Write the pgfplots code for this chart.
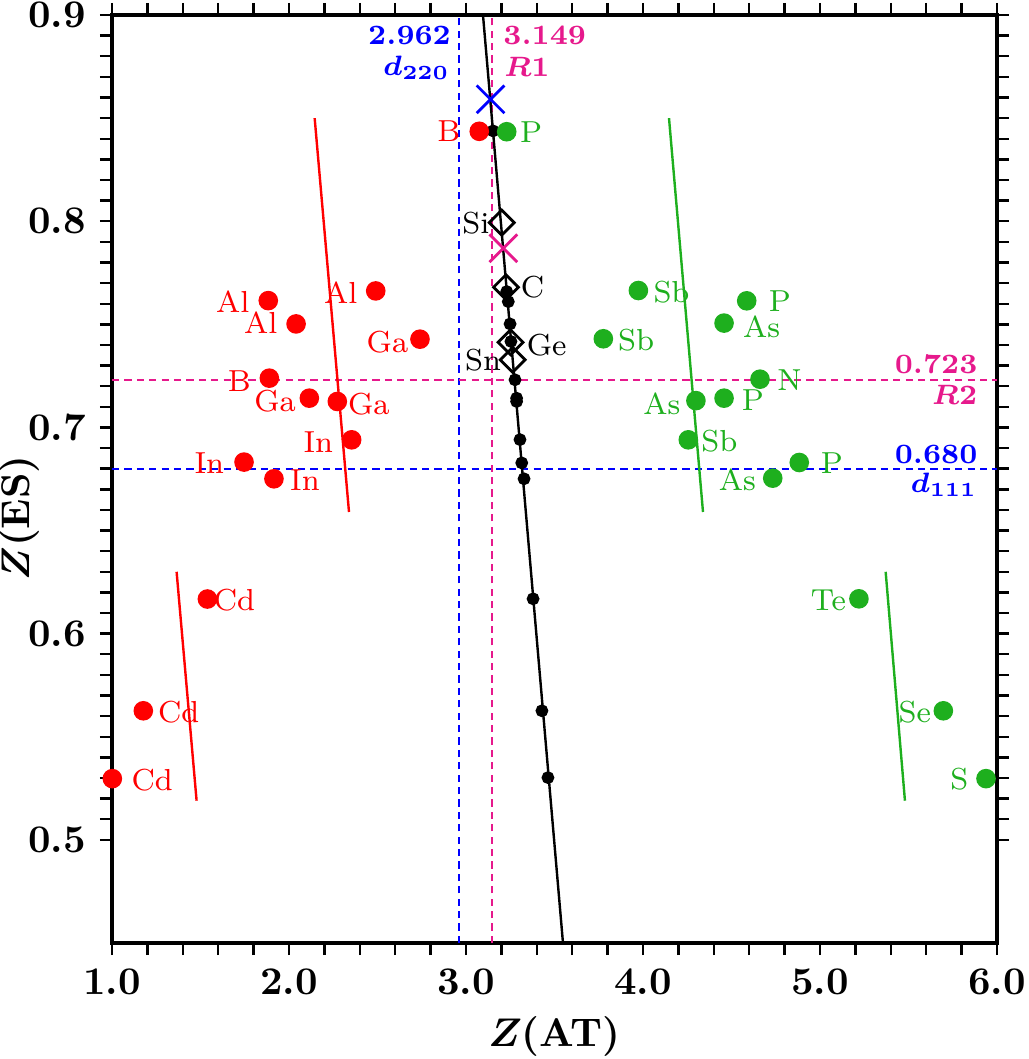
\documentclass[border=0pt]{standalone}
\usepackage{pgfplots}
\pgfplotsset{compat=1.18}
\definecolor{myred}{RGB}{255,0,0}
\definecolor{mygreen}{RGB}{30,175,30}
\definecolor{mypink}{RGB}{230,25,140}
\definecolor{myblue}{RGB}{0,0,255}
\begin{document}
\begin{tikzpicture}[
  lab/.style={inner sep=0pt, text height=5.1pt, text depth=0pt, font=\fontsize{7.6}{9}\selectfont},
  ann/.style={inner sep=0pt, font=\fontsize{7}{8.5}\selectfont\bfseries\boldmath},
]
\begin{axis}[
  width=221.25pt, height=232pt, scale only axis,
  xmin=1, xmax=6, ymin=0.45, ymax=0.9,
  xtick={1,2,3,4,5,6}, ytick={0.5,0.6,0.7,0.8,0.9},
  minor x tick num=4, minor y tick num=9,
  tick align=outside, tick pos=both,
  xticklabel pos=lower, yticklabel pos=left,
  major tick length=3pt, minor tick length=3pt,
  every tick/.style={black, line width=0.6pt},
  axis line style={line width=0.8pt},
  /pgf/number format/assume math mode=true,
  xticklabel style={/pgf/number format/.cd, fixed, fixed zerofill, precision=1},
  yticklabel style={/pgf/number format/.cd, fixed, fixed zerofill, precision=1},
  ticklabel style={font=\fontsize{9.8}{11}\selectfont\bfseries},
  label style={font=\fontsize{10}{12}\selectfont\bfseries},
  xlabel={{\boldmath$Z$}(AT)},
  ylabel={{\boldmath$Z$}(ES)},
  xlabel style={at={(axis description cs:0.5,-0.101)}, anchor=center},
  ylabel style={at={(axis description cs:-0.104,0.458)}, anchor=center},
  clip=false,
]
% reference dashed lines
\addplot[myblue, line width=0.5pt, dash pattern=on 1.8pt off 1.3pt] coordinates {(2.962,0.45) (2.962,0.9)};
\addplot[mypink, line width=0.5pt, dash pattern=on 1.8pt off 1.3pt] coordinates {(3.149,0.45) (3.149,0.9)};
\addplot[mypink, line width=0.5pt, dash pattern=on 1.8pt off 1.3pt] coordinates {(1,0.723) (6,0.723)};
\addplot[myblue, line width=0.5pt, dash pattern=on 1.8pt off 1.3pt] coordinates {(1,0.680) (6,0.680)};
% black fit line
\addplot[black, line width=0.6pt] coordinates {(3.096,0.9) (3.548,0.45)};
% short coloured lines
\addplot[myred, line width=0.6pt] coordinates {(2.145,0.850) (2.339,0.659)};
\addplot[myred, line width=0.6pt] coordinates {(1.365,0.630) (1.478,0.519)};
\addplot[mygreen, line width=0.6pt] coordinates {(4.147,0.850) (4.339,0.659)};
\addplot[mygreen, line width=0.6pt] coordinates {(5.371,0.630) (5.480,0.519)};
% diamonds
\addplot[only marks, mark=square, mark size=2.2pt, mark options={rotate=45, black, line width=0.7pt}] coordinates {
 (3.202,0.7993) (3.226,0.768) (3.252,0.7413) (3.264,0.7328)};
% black dots
\addplot[only marks, mark=*, mark size=1.4pt, mark options={black, fill=black}] coordinates {
 (3.153,0.8438) (3.230,0.7659) (3.239,0.7610) (3.249,0.7502) (3.254,0.7417)
 (3.277,0.7231) (3.286,0.7142) (3.286,0.7126) (3.305,0.6941) (3.315,0.6828)
 (3.328,0.6751) (3.379,0.6169) (3.429,0.5626) (3.463,0.5302)};
% red cations
\addplot[only marks, mark=*, mark size=2.25pt, mark options={myred, fill=myred}] coordinates {
 (3.075,0.8436) (1.883,0.7615) (2.040,0.7502) (2.490,0.7662) (2.740,0.7428)
 (1.889,0.7239) (2.115,0.7142) (2.273,0.7126) (2.354,0.6940) (1.746,0.6832)
 (1.915,0.6751) (1.539,0.6168) (1.177,0.5626) (1.002,0.5297)};
% green anions
\addplot[only marks, mark=*, mark size=2.25pt, mark options={mygreen, fill=mygreen}] coordinates {
 (3.230,0.8434) (3.974,0.7664) (4.586,0.7614) (4.458,0.7506) (3.776,0.7430)
 (4.661,0.7234) (4.299,0.7130) (4.458,0.7142) (4.256,0.6940) (4.883,0.6830)
 (4.733,0.6754) (5.220,0.6169) (5.697,0.5626) (5.938,0.5297)};
% crosses
\addplot[only marks, mark=x, mark size=4.9pt, mark options={myblue, line width=0.7pt}] coordinates {(3.139,0.8591)};
\addplot[only marks, mark=x, mark size=4.9pt, mark options={mypink, line width=0.7pt}] coordinates {(3.211,0.7869)};
% red labels
\node[lab, myred, anchor=east] at (axis cs:2.972,0.8438) {B};
\node[lab, myred, anchor=east] at (axis cs:1.780,0.7609) {Al};
\node[lab, myred, anchor=east] at (axis cs:1.938,0.7507) {Al};
\node[lab, myred, anchor=east] at (axis cs:2.390,0.7652) {Al};
\node[lab, myred, anchor=east] at (axis cs:2.678,0.7415) {Ga};
\node[lab, myred, anchor=east] at (axis cs:1.789,0.7222) {B};
\node[lab, myred, anchor=east] at (axis cs:2.043,0.7126) {Ga};
\node[lab, myred, anchor=west] at (axis cs:2.329,0.7114) {Ga};
\node[lab, myred, anchor=east] at (axis cs:2.254,0.6927) {In};
\node[lab, myred, anchor=east] at (axis cs:1.638,0.6824) {In};
\node[lab, myred, anchor=west] at (axis cs:2.002,0.6743) {In};
\node[lab, myred, anchor=west] at (axis cs:1.571,0.6161) {Cd};
\node[lab, myred, anchor=west] at (axis cs:1.256,0.5617) {Cd};
\node[lab, myred, anchor=west] at (axis cs:1.106,0.5288) {Cd};
% green labels
\node[lab, mygreen, anchor=west] at (axis cs:3.301,0.8429) {P};
\node[lab, mygreen, anchor=west] at (axis cs:4.055,0.7656) {Sb};
\node[lab, mygreen, anchor=west] at (axis cs:4.706,0.7614) {P};
\node[lab, mygreen, anchor=west] at (axis cs:4.561,0.7487) {As};
\node[lab, mygreen, anchor=west] at (axis cs:3.855,0.7425) {Sb};
\node[lab, mygreen, anchor=west] at (axis cs:4.755,0.7227) {N};
\node[lab, mygreen, anchor=east] at (axis cs:4.215,0.7114) {As};
\node[lab, mygreen, anchor=west] at (axis cs:4.554,0.7134) {P};
\node[lab, mygreen, anchor=west] at (axis cs:4.326,0.6932) {Sb};
\node[lab, mygreen, anchor=west] at (axis cs:5.000,0.6824) {P};
\node[lab, mygreen, anchor=east] at (axis cs:4.642,0.6743) {As};
\node[lab, mygreen, anchor=east] at (axis cs:5.151,0.6161) {Te};
\node[lab, mygreen, anchor=east] at (axis cs:5.631,0.5618) {Se};
\node[lab, mygreen, anchor=east] at (axis cs:5.842,0.5292) {S};
% black labels
\node[lab, black, anchor=east] at (axis cs:3.136,0.7990) {Si};
\node[lab, black, anchor=west] at (axis cs:3.305,0.7680) {C};
\node[lab, black, anchor=west] at (axis cs:3.339,0.7400) {Ge};
\node[lab, black, anchor=east] at (axis cs:3.202,0.7328) {Sn};
% annotations
\node[ann, myblue, anchor=base east] at (axis cs:2.919,0.8855) {2.962};
\node[ann, myblue, anchor=base east] at (axis cs:2.913,0.8709) {$d_{220}$};
\node[ann, mypink, anchor=base west] at (axis cs:3.207,0.8855) {3.149};
\node[ann, mypink, anchor=base west] at (axis cs:3.211,0.8701) {$R1$};
\node[ann, mypink, anchor=base east] at (axis cs:5.894,0.7263) {0.723};
\node[ann, mypink, anchor=base east] at (axis cs:5.893,0.7110) {$R2$};
\node[ann, myblue, anchor=base east] at (axis cs:5.894,0.6824) {0.680};
\node[ann, myblue, anchor=base east] at (axis cs:5.893,0.6683) {$d_{111}$};
\end{axis}
\pgfresetboundingbox
\path[use as bounding box] (-28pt,-29pt) rectangle (229pt,235.75pt);
\end{tikzpicture}
\end{document}
